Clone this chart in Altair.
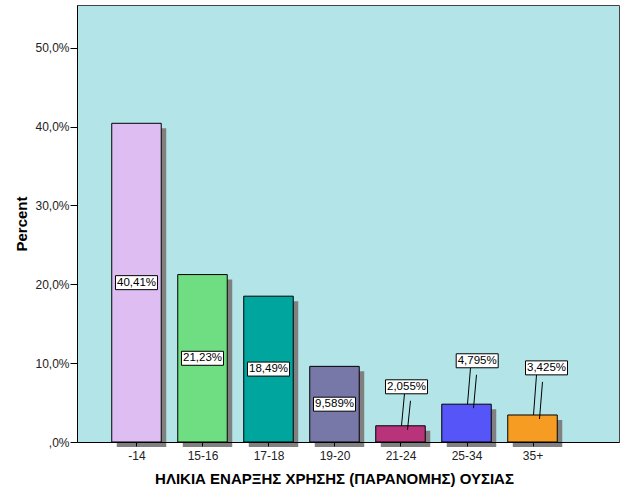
import json
import altair as alt
import pandas as pd

# ---- data ----
categories = ["-14", "15-16", "17-18", "19-20", "21-24", "25-34", "35+"]
percents = [40.41, 21.23, 18.49, 9.589, 2.055, 4.795, 3.425]
bar_colors = ["#DDBDF2", "#6FDD81", "#00A59E", "#7878A8", "#B8337A", "#5555F8", "#F79C22"]
y_ticks = [0, 10, 20, 30, 40, 50]

# ---- label placement (style): None -> centred inside bar ----
label_center_pct = [None, None, None, None, 7.0, 10.3, 9.4]
label_shift_px = [0, 0, 0, 0, 6, 10.7, 14]

W, H = 542, 437
Y_MAX = 55.41
X_MIN, X_MAX = -0.9015, 7.3106
PX_X = W / (X_MAX - X_MIN)
PX_Y = H / Y_MAX
HALF_BAR = 24.75 / PX_X
BOX_W = 42 / PX_X
BOX_H = 14 / PX_Y

rows, leaders = [], []
for i, (c, v, col) in enumerate(zip(categories, percents, bar_colors)):
    lab = f"{v:.4g}".replace(".", ",") + "%"
    if label_center_pct[i] is None:
        ly = v / 2
    else:
        ly = label_center_pct[i]
    lx = i + label_shift_px[i] / PX_X
    rows.append(dict(idx=i, cat=c, val=v, zero=0, color=col,
                     x0=i - HALF_BAR, x1=i + HALF_BAR,
                     label=lab, lx=lx, ly=ly,
                     bx0=lx - BOX_W / 2, bx1=lx + BOX_W / 2,
                     by0=ly - BOX_H / 2, by1=ly + BOX_H / 2))
    if label_center_pct[i] is not None:
        box_bottom = ly - BOX_H / 2
        leaders.append(dict(xa=i + 4 / PX_X, ya=box_bottom, xb=i + 1 / PX_X, yb=v))
        leaders.append(dict(xa=i + 10 / PX_X, ya=box_bottom - 7 / PX_Y,
                            xb=i + 7 / PX_X, yb=v - 4 / PX_Y))

df = pd.DataFrame(rows)
ldf = pd.DataFrame(leaders)

FONT = "Liberation Sans"
xs = alt.Scale(domain=[X_MIN, X_MAX], nice=False, zero=False)
ys = alt.Scale(domain=[0, Y_MAX], nice=False)

x_label_expr = json.dumps(categories) + "[datum.value]"
xaxis = alt.Axis(values=list(range(len(categories))), labelExpr=x_label_expr,
                 title="ΗΛΙΚΙΑ ΕΝΑΡΞΗΣ ΧΡΗΣΗΣ (ΠΑΡΑΝΟΜΗΣ) ΟΥΣΙΑΣ",
                 grid=False, tickSize=4, tickColor="#000", domainColor="#000",
                 labelFont=FONT, labelFontSize=12, labelColor="#222", labelPadding=4,
                 titleFont=FONT, titleFontSize=15, titleFontWeight="bold", titleColor="#000",
                 titlePadding=10, titleX=257, zindex=1)
yaxis = alt.Axis(values=y_ticks,
                 labelExpr="datum.value == 0 ? ',0%' : replace(format(datum.value, '.1f'), '.', ',') + '%'",
                 title="Percent", grid=False, tickSize=7, tickColor="#000", domainColor="#000",
                 labelFont=FONT, labelFontSize=12, labelColor="#222", labelPadding=1,
                 titleFont=FONT, titleFontSize=15, titleFontWeight="bold", titleColor="#000",
                 titlePadding=5, zindex=1)

base = alt.Chart(df)

shadow = base.mark_bar(color="#808080", xOffset=5, x2Offset=5, yOffset=5, y2Offset=5).encode(
    x=alt.X("x0:Q", scale=xs, axis=xaxis), x2="x1:Q",
    y=alt.Y("val:Q", scale=ys, axis=yaxis), y2="zero:Q")

bars = base.mark_bar(stroke="#000", strokeWidth=1).encode(
    x=alt.X("x0:Q", scale=xs), x2="x1:Q",
    y=alt.Y("val:Q", scale=ys), y2="zero:Q",
    color=alt.Color("color:N", scale=None))

lead = alt.Chart(ldf).mark_rule(color="#000", strokeWidth=1).encode(
    x=alt.X("xa:Q", scale=xs), x2="xb:Q",
    y=alt.Y("ya:Q", scale=ys), y2="yb:Q")

boxes = base.mark_rect(fill="white", stroke="#000", strokeWidth=1).encode(
    x=alt.X("bx0:Q", scale=xs), x2="bx1:Q",
    y=alt.Y("by0:Q", scale=ys), y2="by1:Q")

texts = base.mark_text(font=FONT, fontSize=11.5, color="#000").encode(
    x=alt.X("lx:Q", scale=xs), y=alt.Y("ly:Q", scale=ys), text="label:N")

chart = alt.layer(shadow, bars, lead, boxes, texts).properties(
    width=W, height=H,
    autosize=alt.AutoSizeParams(type="none"),
    padding={"left": 77, "top": 5, "right": 7, "bottom": 59},
    background="white",
).configure_view(fill="#B3E5E8", stroke="#444", strokeWidth=1)

chart.save("out.html", embed_options={"renderer": "svg", "actions": False})
